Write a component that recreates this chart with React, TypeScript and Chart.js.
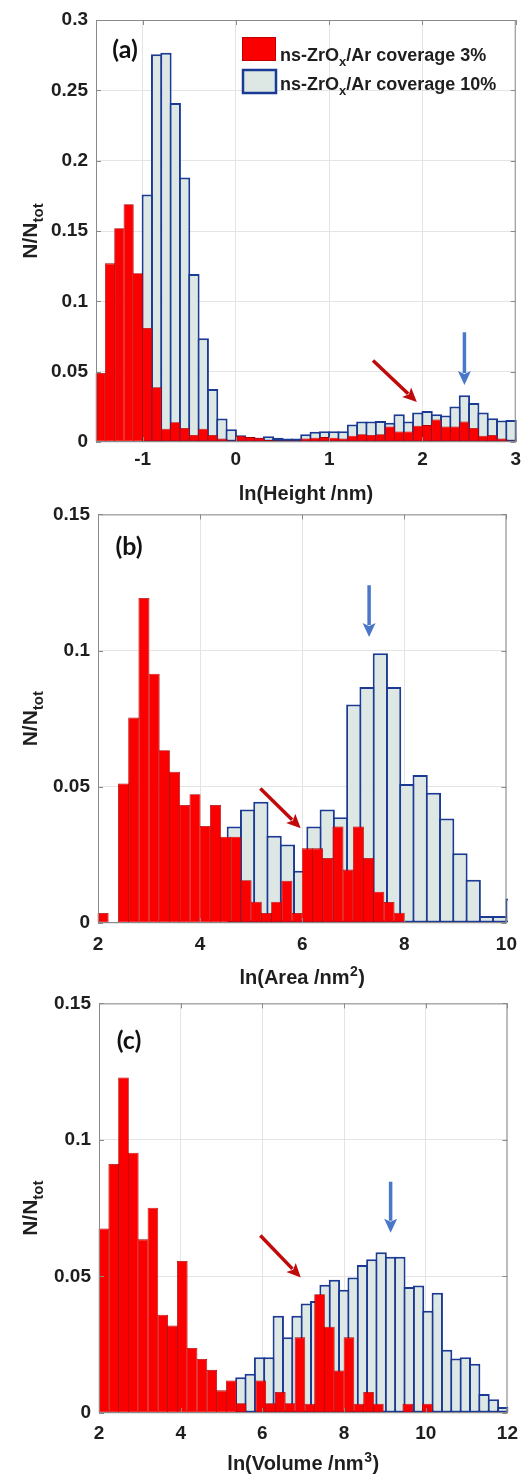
import React, { useEffect, useRef } from "react";
import { Chart, registerables } from "chart.js";

Chart.register(...registerables);

// ---------------- DATA ----------------
const seriesLabels = ["ns-ZrOx/Ar coverage 3%", "ns-ZrOx/Ar coverage 10%"];

// (a) ln(Height / nm) histogram, bins of 0.1 starting at -1.5
const heightBinStart = -1.5;
const heightBinWidth = 0.1;
const height3pct = [
  0.049, 0.127, 0.152, 0.169, 0.12, 0.081, 0.039, 0.0095, 0.014, 0.01,
  0.005, 0.0095, 0.005, 0.0024, 0.001, 0.0045, 0.0035, 0.003, 0.0015, 0.001,
  0.001, 0.001, 0.0025, 0.003, 0.0035, 0.003, 0.0025, 0.0045, 0.0055, 0.005,
  0.0055, 0.011, 0.0075, 0.0075, 0.0115, 0.012, 0.016, 0.011, 0.011, 0.0145,
  0.01, 0.0045, 0.005, 0.0025, 0.001,
];
const height10pct = [
  0, 0, 0, 0, 0, 0.176, 0.2757, 0.2767, 0.241, 0.188,
  0.1195, 0.0738, 0.0376, 0.0167, 0.009, 0.0048, 0.0036, 0.0031, 0.0041, 0.0031,
  0.0024, 0.0024, 0.0055, 0.0072, 0.0077, 0.0077, 0.0077, 0.0125, 0.0145, 0.0145,
  0.015, 0.0137, 0.0198, 0.0145, 0.021, 0.022, 0.0198, 0.0188, 0.0253, 0.0333,
  0.0277, 0.021, 0.0169, 0.0152, 0.0157,
];

// (b) ln(Area / nm^2)
const area3pctBinStart = 2.0;
const area3pctBinWidth = 0.2;
const area3pct = [
  0.0037, 0, 0.0512, 0.0754, 0.1193, 0.0915, 0.0634, 0.0555, 0.0433, 0.0473,
  0.0356, 0.0433, 0.0317, 0.0317, 0.0157, 0.0078, 0.0037, 0.0078, 0.0155, 0.0037,
  0.0274, 0.0274, 0.0239, 0.0354, 0.0196, 0.0354, 0.0239, 0.0115, 0.0077, 0.0038,
];
const area10pctBinStart = 4.54;
const area10pctBinWidth = 0.26;
const area10pct = [
  0.0354, 0.0417, 0.0445, 0.032, 0.0288, 0.0192, 0.0354, 0.0417, 0.0388, 0.0802,
  0.0866, 0.099, 0.0866, 0.051, 0.0543, 0.0478, 0.0384, 0.0256, 0.0159, 0.0026,
  0.0026, 0.009,
];

// (c) ln(Volume / nm^3)
const volume3pctBinStart = 2.0;
const volume3pctBinWidth = 0.24;
const volume3pct = [
  0.0676, 0.0912, 0.1229, 0.0953, 0.0636, 0.0752, 0.036, 0.032, 0.0557, 0.0238,
  0.0198, 0.0158, 0.0083, 0.0119, 0.0036, 0, 0.0119, 0.0036, 0.0077, 0.0036,
  0.0277, 0.0034, 0.0435, 0.0316, 0.0156, 0.0277, 0.0034, 0.0077, 0.0034, 0,
  0, 0.0034, 0, 0.0034,
];
const volume10pctBinStart = 5.359;
const volume10pctBinWidth = 0.229;
const volume10pct = [
  0.0131, 0.0144, 0.0204, 0.0204, 0.0356, 0.0277, 0.0356, 0.0401, 0.041, 0.047,
  0.0488, 0.0451, 0.0496, 0.0542, 0.0563, 0.0589, 0.0572, 0.0572, 0.0461, 0.0467,
  0.0374, 0.044, 0.0232, 0.02, 0.0204, 0.018, 0.007, 0.005, 0.0022,
];

// tick values
const heightTicks = [-1, 0, 1, 2, 3];
const areaTicks = [2, 4, 6, 8, 10];
const volumeTicks = [2, 4, 6, 8, 10, 12];
const fractionTicksA = [0, 0.05, 0.1, 0.15, 0.2, 0.25, 0.3];
const fractionTicksBC = [0, 0.05, 0.1, 0.15];

// axis titles: [text, superscript, closing]
const heightTitle = ["ln(Height /nm)", "", ""];
const areaTitle = ["ln(Area /nm", "2", ")"];
const volumeTitle = ["ln(Volume /nm", "3", ")"];

// annotation arrows in data units: [x0, y0, x1, y1]
const heightArrowRed = [1.47, 0.058, 1.94, 0.0285];
const heightArrowBlue = [2.45, 0.078, 2.45, 0.0405];
const areaArrowRed = [5.18, 0.0494, 5.97, 0.0348];
const areaArrowBlue = [7.31, 0.124, 7.31, 0.105];
const volumeArrowRed = [5.95, 0.065, 6.94, 0.0496];
const volumeArrowBlue = [9.14, 0.0847, 9.14, 0.066];

// ---------------- STYLE ----------------
const FONT = '"Liberation Sans", Arial, Helvetica, sans-serif';
const INK = "#1e1e1e";
const GRID = "#e4e4e4";
const FRAME = "#8a8a8a";
const RED = "#fa0000";
const RED_EDGE = "#a80000";
const BLUE_FILL = "#dde8e4";
const BLUE_EDGE = "#1b3a94";
const ARROW_RED = "#c00a0a";
const ARROW_BLUE = "#4a78c8";
const RED_BW = 0.8;
const BLUE_BW = 2;

type Hist = { start: number; width: number; values: number[] };
type Panel = {
  canvasTop: number;
  canvasHeight: number;
  areaLeft: number;
  areaRight: number;
  areaTop: number;
  areaBottom: number;
  xMin: number;
  xMax: number;
  xTicks: number[];
  yMax: number;
  yTicks: number[];
  xTitle: string[];
  titleY: number;
  tag: string;
  tagCenter: [number, number];
  low: Hist;
  high: Hist;
  arrows: { pts: number[]; color: string }[];
  legend: boolean;
  xTickPad: number;
};

const panels: Panel[] = [
  {
    canvasTop: 0, canvasHeight: 505,
    areaLeft: 96, areaRight: 516, areaTop: 20, areaBottom: 442,
    xMin: -1.5, xMax: 3, xTicks: heightTicks, yMax: 0.3, yTicks: fractionTicksA,
    xTitle: heightTitle, titleY: 493, tag: "(a)", tagCenter: [125, 50],
    low: { start: heightBinStart, width: heightBinWidth, values: height3pct },
    high: { start: heightBinStart, width: heightBinWidth, values: height10pct },
    arrows: [
      { pts: heightArrowRed, color: ARROW_RED },
      { pts: heightArrowBlue, color: ARROW_BLUE },
    ],
    legend: true, xTickPad: 6,
  },
  {
    canvasTop: 495, canvasHeight: 494,
    areaLeft: 98, areaRight: 511, areaTop: 513, areaBottom: 923,
    xMin: 2, xMax: 10, xTicks: areaTicks, yMax: 0.15, yTicks: fractionTicksBC,
    xTitle: areaTitle, titleY: 977, tag: "(b)", tagCenter: [129, 547],
    low: { start: area3pctBinStart, width: area3pctBinWidth, values: area3pct },
    high: { start: area10pctBinStart, width: area10pctBinWidth, values: area10pct },
    arrows: [
      { pts: areaArrowRed, color: ARROW_RED },
      { pts: areaArrowBlue, color: ARROW_BLUE },
    ],
    legend: false, xTickPad: 10,
  },
  {
    canvasTop: 984, canvasHeight: 491,
    areaLeft: 99, areaRight: 512, areaTop: 1002, areaBottom: 1413,
    xMin: 2, xMax: 12, xTicks: volumeTicks, yMax: 0.15, yTicks: fractionTicksBC,
    xTitle: volumeTitle, titleY: 1463, tag: "(c)", tagCenter: [129, 1041],
    low: { start: volume3pctBinStart, width: volume3pctBinWidth, values: volume3pct },
    high: { start: volume10pctBinStart, width: volume10pctBinWidth, values: volume10pct },
    arrows: [
      { pts: volumeArrowRed, color: ARROW_RED },
      { pts: volumeArrowBlue, color: ARROW_BLUE },
    ],
    legend: false, xTickPad: 9,
  },
];

function drawArrow(ctx: CanvasRenderingContext2D, x0: number, y0: number, x1: number, y1: number, color: string) {
  const dx = x1 - x0;
  const dy = y1 - y0;
  const len = Math.hypot(dx, dy) || 1;
  const ux = dx / len;
  const uy = dy / len;
  const head = 14;
  const half = 6.5;
  const bx = x1 - ux * head;
  const by = y1 - uy * head;
  ctx.strokeStyle = color;
  ctx.lineWidth = 3.5;
  ctx.beginPath();
  ctx.moveTo(x0, y0);
  ctx.lineTo(bx + ux * 2, by + uy * 2);
  ctx.stroke();
  ctx.fillStyle = color;
  ctx.beginPath();
  ctx.moveTo(x1, y1);
  ctx.lineTo(bx - uy * half, by + ux * half);
  ctx.lineTo(bx + ux * 3, by + uy * 3);
  ctx.lineTo(bx + uy * half, by - ux * half);
  ctx.closePath();
  ctx.fill();
}

function drawLegendLine(ctx: CanvasRenderingContext2D, x: number, y: number, tail: string) {
  const main = `bold 18px ${FONT}`;
  const sub = `bold 13px ${FONT}`;
  ctx.fillStyle = INK;
  ctx.textAlign = "left";
  ctx.textBaseline = "alphabetic";
  ctx.font = main;
  ctx.fillText("ns-ZrO", x, y);
  let cx = x + ctx.measureText("ns-ZrO").width;
  ctx.font = sub;
  ctx.fillText("x", cx, y + 5);
  cx += ctx.measureText("x").width;
  ctx.font = main;
  ctx.fillText(tail, cx, y);
}

function makeDecor(p: Panel) {
  return {
    id: "decor",
    afterDraw(chart: any) {
      const ctx: CanvasRenderingContext2D = chart.ctx;
      const a = chart.chartArea;
      const xs = chart.scales.x;
      const ys = chart.scales.y;
      const off = p.canvasTop;
      ctx.save();
      // inner tick marks
      ctx.strokeStyle = FRAME;
      ctx.lineWidth = 1;
      ctx.beginPath();
      xs.ticks.forEach((t: any) => {
        const px = Math.round(xs.getPixelForValue(t.value)) + 0.5;
        ctx.moveTo(px, a.bottom);
        ctx.lineTo(px, a.bottom - 5);
        ctx.moveTo(px, a.top);
        ctx.lineTo(px, a.top + 5);
      });
      ys.ticks.forEach((t: any) => {
        const py = Math.round(ys.getPixelForValue(t.value)) + 0.5;
        ctx.moveTo(a.left, py);
        ctx.lineTo(a.left + 5, py);
        ctx.moveTo(a.right, py);
        ctx.lineTo(a.right - 5, py);
      });
      ctx.stroke();
      // frame
      ctx.strokeRect(a.left + 0.5, a.top + 0.5, a.right - a.left - 1, a.bottom - a.top - 1);

      // arrows
      p.arrows.forEach((ar) => {
        const [x0, y0, x1, y1] = ar.pts;
        drawArrow(
          ctx,
          xs.getPixelForValue(x0), ys.getPixelForValue(y0),
          xs.getPixelForValue(x1), ys.getPixelForValue(y1),
          ar.color
        );
      });

      // panel tag
      ctx.fillStyle = "#111";
      ctx.font = `bold 25px Lato, "Open Sans", sans-serif`;
      ctx.textAlign = "center";
      ctx.textBaseline = "middle";
      ctx.fillText(p.tag, p.tagCenter[0], p.tagCenter[1] - off);

      // x title with superscript
      {
        const [t0, sup, t1] = p.xTitle;
        const mainF = `bold 20px ${FONT}`;
        const supF = `bold 14px ${FONT}`;
        ctx.font = mainF;
        const w0 = ctx.measureText(t0).width;
        const w2 = ctx.measureText(t1).width;
        ctx.font = supF;
        const w1 = sup ? ctx.measureText(sup).width + 1 : 0;
        const total = w0 + w1 + w2;
        let x = (a.left + a.right) / 2 - total / 2;
        const base = p.titleY - off + 7;
        ctx.fillStyle = INK;
        ctx.textAlign = "left";
        ctx.textBaseline = "alphabetic";
        ctx.font = mainF;
        ctx.fillText(t0, x, base);
        x += w0;
        if (sup) {
          ctx.font = supF;
          ctx.fillText(sup, x + 0.5, base - 8);
          x += w1;
          ctx.font = mainF;
          ctx.fillText(t1, x, base);
        }
      }

      // y title N/N_tot
      const cy = (a.top + a.bottom) / 2;
      ctx.save();
      ctx.translate(37, cy);
      ctx.rotate(-Math.PI / 2);
      ctx.textAlign = "left";
      ctx.textBaseline = "alphabetic";
      ctx.font = `bold 21px ${FONT}`;
      const w1 = ctx.measureText("N/N").width;
      ctx.font = `bold 15px ${FONT}`;
      const w2 = ctx.measureText("tot").width;
      const sx = -(w1 + w2) / 2;
      ctx.fillStyle = INK;
      ctx.font = `bold 21px ${FONT}`;
      ctx.fillText("N/N", sx, 0);
      ctx.font = `bold 15px ${FONT}`;
      ctx.fillText("tot", sx + w1, 6);
      ctx.restore();

      // legend
      if (p.legend) {
        ctx.fillStyle = RED;
        ctx.fillRect(242, 37, 34, 24);
        ctx.strokeStyle = "#c00000";
        ctx.lineWidth = 1;
        ctx.strokeRect(242.5, 37.5, 33, 23);
        ctx.fillStyle = BLUE_FILL;
        ctx.fillRect(243, 70, 33, 23);
        ctx.strokeStyle = BLUE_EDGE;
        ctx.lineWidth = 2.5;
        ctx.strokeRect(243, 70, 33, 23);
        drawLegendLine(ctx, 280, 61, "/Ar coverage 3%");
        drawLegendLine(ctx, 280, 90, "/Ar coverage 10%");
      }
      ctx.restore();
    },
  };
}

function makeChart(canvas: HTMLCanvasElement, p: Panel) {
  const areaTopLocal = p.areaTop - p.canvasTop;
  const areaBottomLocal = p.areaBottom - p.canvasTop;
  const pxPerUnit = (p.areaRight - p.areaLeft) / (p.xMax - p.xMin);
  const toPoints = (h: Hist) => h.values.map((v, i) => ({ x: h.start + h.width * (i + 0.5), y: v }));
  const pct = (h: Hist, bw: number) => 1 + bw / (h.width * pxPerUnit);
  const tickFont = { family: FONT, size: 19, weight: "bold" as const };
  const setX = (s: any) => {
    s.ticks = p.xTicks.map((value) => ({ value }));
  };
  return new Chart(canvas, {
    type: "bar",
    data: {
      datasets: [
        {
          label: seriesLabels[0],
          data: toPoints(p.low),
          xAxisID: "x",
          yAxisID: "y",
          backgroundColor: RED,
          borderColor: RED_EDGE,
          borderWidth: RED_BW,
          borderSkipped: false,
          barPercentage: pct(p.low, RED_BW),
          categoryPercentage: 1,
          grouped: false,
          inflateAmount: 0,
          clip: 1,
          order: 0,
        } as any,
        {
          label: seriesLabels[1],
          data: toPoints(p.high),
          xAxisID: "xb",
          yAxisID: "y",
          backgroundColor: BLUE_FILL,
          borderColor: BLUE_EDGE,
          borderWidth: BLUE_BW,
          borderSkipped: false,
          barPercentage: pct(p.high, BLUE_BW),
          categoryPercentage: 1,
          grouped: false,
          inflateAmount: 0,
          clip: 1.5,
          order: 1,
        } as any,
      ],
    },
    options: {
      responsive: false,
      animation: false,
      devicePixelRatio: 1,
      events: [],
      layout: { padding: { left: 0, right: 527 - p.areaRight, top: areaTopLocal, bottom: 0 } },
      plugins: { legend: { display: false }, tooltip: { enabled: false }, title: { display: false } },
      scales: {
        x: {
          type: "linear",
          axis: "x",
          position: "bottom",
          min: p.xMin,
          max: p.xMax,
          offset: false,
          afterBuildTicks: setX,
          afterFit: (s: any) => {
            s.height = p.canvasHeight - areaBottomLocal;
          },
          grid: { color: GRID, lineWidth: 1, drawTicks: false, offset: false },
          border: { display: false },
          ticks: {
            padding: p.xTickPad,
            font: tickFont,
            color: INK,
            maxRotation: 0,
            autoSkip: false,
            callback: (v: any) => String(v),
          },
          title: { display: false },
        },
        xb: {
          type: "linear",
          axis: "x",
          position: "bottom",
          display: false,
          min: p.xMin,
          max: p.xMax,
          offset: false,
          afterBuildTicks: setX,
          grid: { offset: false },
        },
        y: {
          type: "linear",
          position: "left",
          min: 0,
          max: p.yMax,
          afterBuildTicks: (s: any) => {
            s.ticks = p.yTicks.map((value) => ({ value }));
          },
          afterFit: (s: any) => {
            s.width = p.areaLeft;
          },
          grid: { color: GRID, lineWidth: 1, drawTicks: false },
          border: { display: false },
          ticks: { padding: 8, font: tickFont, color: INK, callback: (v: any) => String(v) },
        },
      } as any,
    },
    plugins: [makeDecor(p) as any],
  });
}

function PanelChart({ p }: { p: Panel }) {
  const ref = useRef<HTMLCanvasElement | null>(null);
  useEffect(() => {
    if (!ref.current) return;
    const chart = makeChart(ref.current, p);
    return () => chart.destroy();
  }, [p]);
  return (
    <canvas
      ref={ref}
      width={527}
      height={p.canvasHeight}
      style={{ position: "absolute", left: 0, top: p.canvasTop, width: 527, height: p.canvasHeight, display: "block" }}
    />
  );
}

export default function App() {
  return (
    <div
      style={{
        position: "absolute",
        left: 0,
        top: 0,
        width: 527,
        height: 1479,
        background: "#ffffff",
        overflow: "hidden",
      }}
    >
      {panels.map((p, i) => (
        <PanelChart key={i} p={p} />
      ))}
    </div>
  );
}
